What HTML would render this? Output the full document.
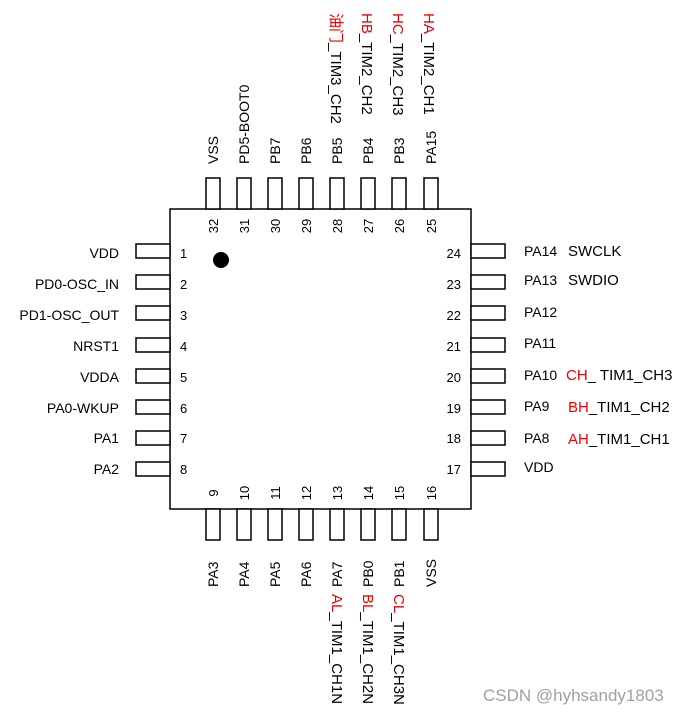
<!DOCTYPE html>
<html><head><meta charset="utf-8"><style>
html,body{margin:0;padding:0;background:#fff;}
svg{display:block;}
text{font-family:"Liberation Sans","Noto Sans CJK SC",sans-serif;font-size:14px;fill:#000;}
.n{font-size:13px;}
.f{font-size:15px;}
.r{fill:#e00;}
</style></head><body>
<svg width="684" height="715" viewBox="0 0 684 715" xmlns="http://www.w3.org/2000/svg">
<g fill="#fff" stroke="#000" stroke-width="1.5">
<rect x="170" y="209" width="301" height="300"/>
<rect x="206" y="178" width="14" height="31"/><rect x="237" y="178" width="14" height="31"/>
<rect x="268" y="178" width="14" height="31"/><rect x="299" y="178" width="14" height="31"/>
<rect x="330" y="178" width="14" height="31"/><rect x="361" y="178" width="14" height="31"/>
<rect x="392" y="178" width="14" height="31"/><rect x="424" y="178" width="14" height="31"/>
<rect x="206" y="509" width="14" height="31"/><rect x="237" y="509" width="14" height="31"/>
<rect x="268" y="509" width="14" height="31"/><rect x="299" y="509" width="14" height="31"/>
<rect x="330" y="509" width="14" height="31"/><rect x="361" y="509" width="14" height="31"/>
<rect x="392" y="509" width="14" height="31"/><rect x="424" y="509" width="14" height="31"/>
<rect x="136" y="244" width="34" height="14"/><rect x="136" y="275" width="34" height="14"/>
<rect x="136" y="306" width="34" height="14"/><rect x="136" y="338" width="34" height="14"/>
<rect x="136" y="369" width="34" height="14"/><rect x="136" y="400" width="34" height="14"/>
<rect x="136" y="431" width="34" height="14"/><rect x="136" y="462" width="34" height="14"/>
<rect x="471" y="244" width="34" height="14"/><rect x="471" y="275" width="34" height="14"/>
<rect x="471" y="306" width="34" height="14"/><rect x="471" y="338" width="34" height="14"/>
<rect x="471" y="369" width="34" height="14"/><rect x="471" y="400" width="34" height="14"/>
<rect x="471" y="431" width="34" height="14"/><rect x="471" y="462" width="34" height="14"/>
</g>
<circle cx="221" cy="260" r="8" fill="#000"/>

<g text-anchor="end">
<text x="119" y="258">VDD</text><text x="119" y="289">PD0-OSC_IN</text>
<text x="119" y="320">PD1-OSC_OUT</text><text x="119" y="351">NRST1</text>
<text x="119" y="382">VDDA</text><text x="119" y="413">PA0-WKUP</text>
<text x="119" y="443">PA1</text><text x="119" y="474">PA2</text>
</g>
<g class="n">
<text class="n" x="180" y="258">1</text><text class="n" x="180" y="289">2</text><text class="n" x="180" y="320">3</text><text class="n" x="180" y="351">4</text>
<text class="n" x="180" y="382">5</text><text class="n" x="180" y="413">6</text><text class="n" x="180" y="443">7</text><text class="n" x="180" y="474">8</text>
</g>
<g text-anchor="end">
<text class="n" x="461" y="258">24</text><text class="n" x="461" y="289">23</text><text class="n" x="461" y="320">22</text><text class="n" x="461" y="351">21</text>
<text class="n" x="461" y="382">20</text><text class="n" x="461" y="413">19</text><text class="n" x="461" y="443">18</text><text class="n" x="461" y="474">17</text>
</g>
<g>
<text x="524" y="256">PA14</text><text x="524" y="285">PA13</text><text x="524" y="317">PA12</text>
<text x="524" y="348">PA11</text><text x="524" y="380">PA10</text><text x="524" y="411">PA9</text>
<text x="524" y="443">PA8</text><text x="524" y="472">VDD</text>
<text class="f" x="568" y="256">SWCLK</text><text class="f" x="568" y="285">SWDIO</text>
<text class="f" x="566" y="380"><tspan class="r">CH</tspan>_ TIM1_CH3</text>
<text class="f" x="568" y="412"><tspan class="r">BH</tspan>_TIM1_CH2</text>
<text class="f" x="568" y="444"><tspan class="r">AH</tspan>_TIM1_CH1</text>
</g>

<g>
<text transform="translate(218,164) rotate(-90)">VSS</text>
<text transform="translate(249,164) rotate(-90)">PD5-BOOT0</text>
<text transform="translate(280,164) rotate(-90)">PB7</text>
<text transform="translate(311,164) rotate(-90)">PB6</text>
<text transform="translate(342,164) rotate(-90)">PB5</text>
<text transform="translate(373,164) rotate(-90)">PB4</text>
<text transform="translate(404,164) rotate(-90)">PB3</text>
<text transform="translate(436,164) rotate(-90)">PA15</text>
</g>
<g text-anchor="middle">
<text class="n" transform="translate(218,226) rotate(-90)">32</text>
<text class="n" transform="translate(249,226) rotate(-90)">31</text>
<text class="n" transform="translate(280,226) rotate(-90)">30</text>
<text class="n" transform="translate(311,226) rotate(-90)">29</text>
<text class="n" transform="translate(342,226) rotate(-90)">28</text>
<text class="n" transform="translate(373,226) rotate(-90)">27</text>
<text class="n" transform="translate(404,226) rotate(-90)">26</text>
<text class="n" transform="translate(436,226) rotate(-90)">25</text>
</g>
<g>
<text class="f" transform="translate(331,13) rotate(90)"><tspan class="r">油门</tspan>_TIM3_CH2</text>
<text class="f" transform="translate(362,13) rotate(90)"><tspan class="r">HB</tspan>_TIM2_CH2</text>
<text class="f" transform="translate(393,13) rotate(90)"><tspan class="r">HC</tspan>_TIM2_CH3</text>
<text class="f" transform="translate(424,13) rotate(90)"><tspan class="r">HA</tspan>_TIM2_CH1</text>
</g>

<g text-anchor="middle">
<text class="n" transform="translate(218,493) rotate(-90)">9</text>
<text class="n" transform="translate(249,493) rotate(-90)">10</text>
<text class="n" transform="translate(280,493) rotate(-90)">11</text>
<text class="n" transform="translate(311,493) rotate(-90)">12</text>
<text class="n" transform="translate(342,493) rotate(-90)">13</text>
<text class="n" transform="translate(373,493) rotate(-90)">14</text>
<text class="n" transform="translate(404,493) rotate(-90)">15</text>
<text class="n" transform="translate(436,493) rotate(-90)">16</text>
</g>
<g>
<text transform="translate(218,587) rotate(-90)">PA3</text>
<text transform="translate(249,587) rotate(-90)">PA4</text>
<text transform="translate(280,587) rotate(-90)">PA5</text>
<text transform="translate(311,587) rotate(-90)">PA6</text>
<text transform="translate(342,587) rotate(-90)">PA7</text>
<text transform="translate(373,587) rotate(-90)">PB0</text>
<text transform="translate(404,587) rotate(-90)">PB1</text>
<text transform="translate(436,587) rotate(-90)">VSS</text>
</g>
<g>
<text class="f" transform="translate(332,594) rotate(90)"><tspan class="r">AL</tspan>_TIM1_CH1N</text>
<text class="f" transform="translate(363,594) rotate(90)"><tspan class="r">BL</tspan>_TIM1_CH2N</text>
<text class="f" transform="translate(394,594) rotate(90)"><tspan class="r">CL</tspan>_TIM1_CH3N</text>
</g>

<text x="483" y="701" style="font-size:17px;fill:#a0a0a0;">CSDN @hyhsandy1803</text>
</svg>
</body></html>
